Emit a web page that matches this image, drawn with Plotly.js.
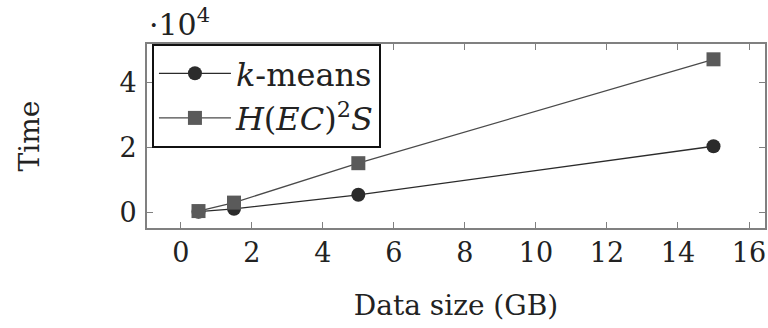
<!DOCTYPE html>
<html>
<head>
<meta charset="utf-8">
<script src="https://cdn.plot.ly/plotly-3.0.1.min.js"></script>
<style>html,body{margin:0;padding:0;background:#fff;}#chart{width:768px;height:328px;}</style>
</head>
<body>
<div id="chart"></div>
<script>
const dataSizeGB = [0.5, 1.5, 5, 15];
const kmeansTime = [300, 1200, 5500, 20400];
const hec2sTime = [500, 3100, 15200, 47100];
const xTicks = [0, 2, 4, 6, 8, 10, 12, 14, 16];
const yTickVals = [0, 20000, 40000];
const yTickText = ['0', '2', '4'];
const seriesNames = ['<i>k</i>-means', '<i>H</i>(<i>EC</i>)<sup>2</sup><i>S</i>'];

const FONT = '"DejaVu Serif", serif';

const traces = [
  {
    x: dataSizeGB, y: kmeansTime, name: seriesNames[0], type: 'scatter', mode: 'lines+markers',
    line: {color: '#2b2b2b', width: 1.3},
    marker: {symbol: 'circle', size: 14, color: '#2b2b2b'}
  },
  {
    x: dataSizeGB, y: hec2sTime, name: seriesNames[1], type: 'scatter', mode: 'lines+markers',
    line: {color: '#4a4a4a', width: 1.3},
    marker: {symbol: 'square', size: 14, color: '#5a5a5a'}
  }
];

const layout = {
  width: 768, height: 328,
  margin: {l: 147, r: 3, t: 44, b: 100},
  paper_bgcolor: '#fff', plot_bgcolor: '#fff',
  font: {family: FONT, size: 27, color: '#222'},
  showlegend: true,
  legend: {
    x: 0.008, y: 1.0, xanchor: 'left', yanchor: 'top',
    bgcolor: '#fff', bordercolor: '#111', borderwidth: 2,
    font: {family: FONT, size: 32, color: '#222'},
    itemwidth: 72,
    tracegroupgap: 0
  },
  xaxis: {
    range: [-0.95, 16.45], tickvals: xTicks, ticktext: xTicks.map(String),
    showgrid: false, zeroline: false,
    showline: true, linecolor: '#808080', linewidth: 2, mirror: 'allticks',
    ticks: 'inside', ticklen: 6, tickcolor: '#808080', tickwidth: 1,
    tickfont: {family: FONT, size: 27, color: '#222'},
    title: {text: 'Data size (GB)', font: {family: FONT, size: 28, color: '#222'}, standoff: 28}
  },
  yaxis: {
    range: [-4700, 51800], tickvals: yTickVals, ticktext: yTickText,
    showgrid: false, zeroline: false,
    showline: true, linecolor: '#808080', linewidth: 2, mirror: 'allticks',
    ticks: 'inside', ticklen: 6, tickcolor: '#808080', tickwidth: 1,
    ticklabelstandoff: 3,
    tickfont: {family: FONT, size: 27, color: '#222'},
    title: {text: 'Time', font: {family: FONT, size: 28, color: '#222'}, standoff: 72}
  },
  annotations: [{
    xref: 'paper', yref: 'paper', x: 0, y: 1, xanchor: 'left', yanchor: 'bottom',
    text: '·10<sup>4</sup>', showarrow: false, yshift: 0,
    font: {family: FONT, size: 30, color: '#222'}
  }]
};

Plotly.newPlot('chart', traces, layout, {displayModeBar: false, staticPlot: true});
</script>
</body>
</html>
